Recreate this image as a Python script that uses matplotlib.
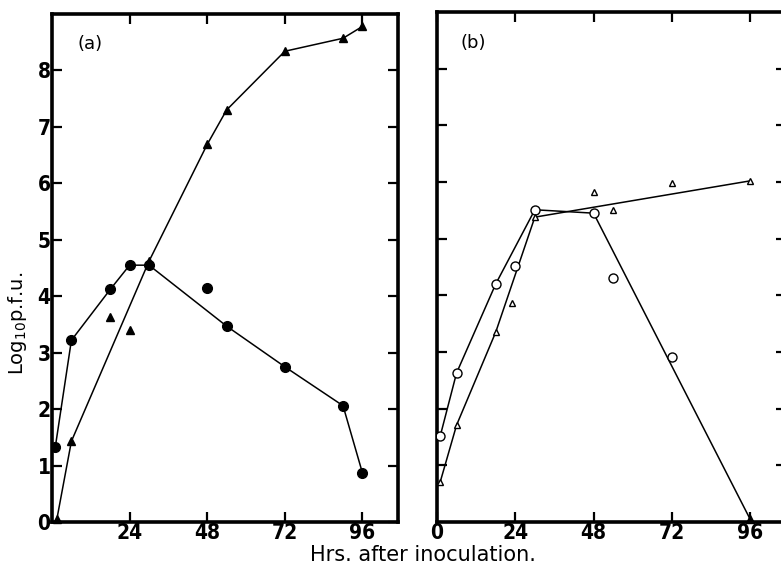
import matplotlib
matplotlib.use("Agg")
import matplotlib.pyplot as plt
import numpy as np

# ---- data (hours after inoculation, log10 p.f.u.) ----
# panel (a): filled circles and filled triangles
a_circle_hrs = [1, 6, 18, 24, 30, 48, 54, 72, 90, 96]
a_circle_log = [1.32, 3.22, 4.12, 4.55, 4.55, 4.15, 3.47, 2.75, 2.06, 0.87]
a_circle_joined = [True, True, True, True, True, False, True, True, True, True]

a_tri_hrs = [1.5, 6, 18, 24, 30, 48, 54, 72, 90, 96]
a_tri_log = [0.05, 1.43, 3.63, 3.40, 4.62, 6.69, 7.30, 8.34, 8.57, 8.78]
a_tri_joined = [True, True, False, False, True, True, True, True, True, True]

# panel (b): open circles and open triangles
b_circle_hrs = [1, 6, 18, 24, 30, 48, 54, 72]
b_circle_log = [1.52, 2.63, 4.20, 4.52, 5.51, 5.45, 4.30, 2.91]
b_circle_joined = [True, True, True, False, True, True, False, False]
b_nd_hrs = [96]      # end point of the circle curve (filled mark on the axis)
b_nd_log = [0.05]

b_tri_hrs = [1, 6, 18, 23, 30, 48, 54, 72, 96]
b_tri_log = [0.71, 1.71, 3.35, 3.86, 5.38, 5.83, 5.51, 5.98, 6.02]
b_tri_joined = [True, True, True, False, True, False, False, False, True]

x_ticks = [24, 48, 72, 96]
y_ticks = [0, 1, 2, 3, 4, 5, 6, 7, 8]

TICK_FONT = ['Liberation Sans Narrow', 'DejaVu Sans']


def joined_points(hrs, vals, joined):
    xs = [h for h, j in zip(hrs, joined) if j]
    ys = [v for v, j in zip(vals, joined) if j]
    return xs, ys


def style_axes(ax, show_ylabels, xtick_list, ytick_list):
    ax.set_xlim(0, 107)
    ax.set_ylim(0, 9)
    ax.set_xticks(xtick_list)
    ax.set_yticks(ytick_list)
    for sp in ax.spines.values():
        sp.set_linewidth(2.6)
    ax.tick_params(direction='in', length=7, width=1.6, top=True, right=True,
                   labelsize=15)
    ax.tick_params(axis='x', pad=1)
    ax.tick_params(axis='y', labelleft=show_ylabels, labelright=False, pad=1)
    for lab in ax.get_xticklabels() + ax.get_yticklabels():
        lab.set_family(TICK_FONT)
        lab.set_fontweight('bold')
        lab.set_fontstretch('condensed')


fig = plt.figure(figsize=(7.81, 5.74), dpi=100)
ax_a = fig.add_axes([52 / 781, 52 / 574, 346 / 781, 508 / 574])
ax_b = fig.add_axes([437 / 781, 52 / 574, 349 / 781, 510 / 574])

# panel (a)
x, y = joined_points(a_circle_hrs, a_circle_log, a_circle_joined)
ax_a.plot(x, y, color='black', lw=1.1, zorder=2)
ax_a.plot(a_circle_hrs, a_circle_log, 'o', color='black', ms=7, zorder=3)
x, y = joined_points(a_tri_hrs, a_tri_log, a_tri_joined)
ax_a.plot(x, y, color='black', lw=1.1, zorder=2)
ax_a.plot(a_tri_hrs, a_tri_log, '^', color='black', ms=5.5, zorder=3, clip_on=False)
ax_a.text(0.075, 0.94, '(a)', transform=ax_a.transAxes, fontsize=13, va='center')
style_axes(ax_a, True, x_ticks, y_ticks)

# panel (b)
x, y = joined_points(b_circle_hrs, b_circle_log, b_circle_joined)
ax_b.plot(x + b_nd_hrs, y + b_nd_log, color='black', lw=1.1, zorder=2)
ax_b.plot(b_circle_hrs, b_circle_log, 'o', mfc='white', mec='black', mew=1.0,
          ms=6.5, zorder=3)
ax_b.plot(b_nd_hrs, b_nd_log, '^', color='black', ms=6, zorder=3, clip_on=False)
x, y = joined_points(b_tri_hrs, b_tri_log, b_tri_joined)
ax_b.plot(x, y, color='black', lw=1.1, zorder=2)
ax_b.plot(b_tri_hrs, b_tri_log, '^', mfc='white', mec='black', mew=1.0,
          ms=5, zorder=3)
ax_b.text(0.066, 0.94, '(b)', transform=ax_b.transAxes, fontsize=13, va='center')
style_axes(ax_b, False, [0] + x_ticks, y_ticks[1:])

fig.text(0.542, 0.033, 'Hrs. after inoculation.', ha='center', va='center',
         fontsize=15)
fig.text(0.022, 0.437, r'Log$_{10}$p.f.u.', rotation=90, ha='center', va='center',
         fontsize=14)

fig.savefig('out.png', dpi=100)
